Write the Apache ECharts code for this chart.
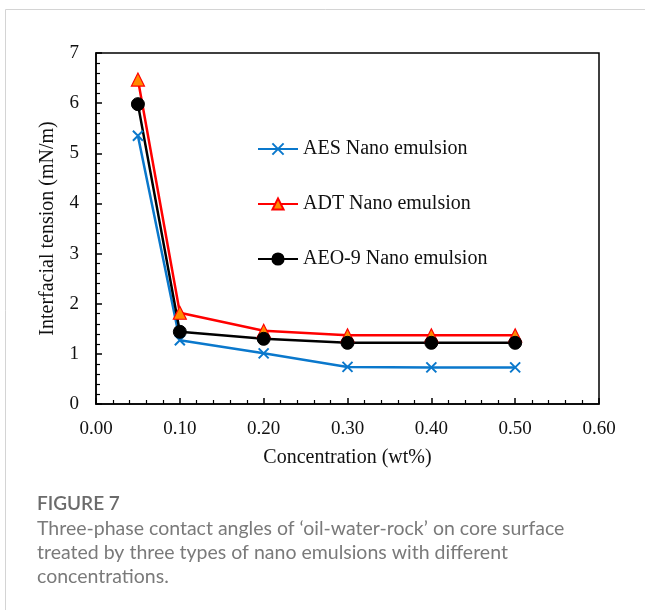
<!DOCTYPE html>
<html>
<head>
<meta charset="utf-8">
<script src="https://cdn.jsdelivr.net/npm/echarts@6/dist/echarts.min.js"></script>
<style>html,body{margin:0;padding:0;background:#fff;}#c{width:645px;height:610px;}</style>
</head>
<body>
<div id="c"></div>
<script>
const concentrations = [0.05, 0.10, 0.20, 0.30, 0.40, 0.50];
const aesValues = [5.35, 1.27, 1.01, 0.74, 0.73, 0.73];
const adtValues = [6.47, 1.82, 1.46, 1.37, 1.37, 1.37];
const aeoValues = [5.98, 1.44, 1.30, 1.22, 1.22, 1.22];
const seriesNames = ['AES Nano emulsion', 'ADT Nano emulsion', 'AEO-9 Nano emulsion'];
const xTitle = 'Concentration (wt%)';
const yTitle = 'Interfacial tension (mN/m)';
const captionTitle = 'FIGURE 7';
const captionLines = [
  'Three-phase contact angles of \u2018oil-water-rock\u2019 on core surface',
  'treated by three types of nano emulsions with different',
  'concentrations.'
];

const pairs = v => concentrations.map((x, i) => [x, v[i]]);
const serif = '"Liberation Serif", "Times New Roman", serif';
const crossPath = 'path://M0,0L10,10M10,0L0,10';

const chart = echarts.init(document.getElementById('c'), null, {renderer: 'canvas'});
chart.setOption({
  animation: false,
  backgroundColor: '#fff',
  grid: {left: 96, top: 53, right: 46, bottom: 206, show: true, borderColor: '#000', borderWidth: 1.5, backgroundColor: 'transparent'},
  xAxis: {
    type: 'value', min: 0, max: 0.6, interval: 0.1,
    name: xTitle, nameLocation: 'middle', nameGap: 44,
    nameTextStyle: {fontFamily: serif, fontSize: 20, color: '#111'},
    axisLine: {lineStyle: {color: '#000', width: 1.5}},
    axisTick: {inside: true, length: 6, lineStyle: {color: '#000', width: 1.5}},
    minorTick: {show: true, splitNumber: 5, length: 4, lineStyle: {color: '#000', width: 1.2}},
    axisLabel: {fontFamily: serif, fontSize: 19, color: '#111', margin: 16, formatter: v => v.toFixed(2)},
    splitLine: {show: false}
  },
  yAxis: {
    type: 'value', min: 0, max: 7, interval: 1,
    name: yTitle, nameLocation: 'middle', nameGap: 38, nameRotate: 90,
    nameTextStyle: {fontFamily: serif, fontSize: 20, color: '#111'},
    axisLine: {show: true, lineStyle: {color: '#000', width: 1.5}},
    axisTick: {show: true, inside: true, length: 6, lineStyle: {color: '#000', width: 1.5}},
    minorTick: {show: true, splitNumber: 5, length: 4, lineStyle: {color: '#000', width: 1.2}},
    axisLabel: {fontFamily: serif, fontSize: 19, color: '#111', margin: 17},
    splitLine: {show: false}
  },
  legend: {
    orient: 'vertical', left: 257, top: 139, padding: 0, itemGap: 35, itemWidth: 40, itemHeight: 14,
    textStyle: {fontFamily: serif, fontSize: 20, color: '#111'},
    data: seriesNames
  },
  series: [
    {name: seriesNames[0], type: 'line', data: pairs(aesValues), symbol: crossPath, symbolSize: 10,
     lineStyle: {color: '#0a78cc', width: 2.5}, itemStyle: {color: 'transparent', borderColor: '#0a78cc', borderWidth: 2}},
    {name: seriesNames[1], type: 'line', data: pairs(adtValues), symbol: 'triangle', symbolSize: 13,
     lineStyle: {color: '#ff0000', width: 2.5}, itemStyle: {color: '#ff8a00', borderColor: '#ff0000', borderWidth: 1.2}},
    {name: seriesNames[2], type: 'line', data: pairs(aeoValues), symbol: 'circle', symbolSize: 13,
     lineStyle: {color: '#000', width: 2.5}, itemStyle: {color: '#000', borderColor: '#000', borderWidth: 1}}
  ],
  graphic: [
    {type: 'rect', silent: true, z: -10, shape: {x: 5.5, y: 9.5, width: 700, height: 700}, style: {fill: 'none', stroke: '#d4d4d4', lineWidth: 1}},
    {type: 'text', left: 37, top: 494, style: {text: captionTitle, font: '600 19px Lato', fill: '#6b6b6b'}},
    {type: 'text', left: 37, top: 519, style: {text: captionLines[0], font: '19.5px Lato', fill: '#7a7a7a'}},
    {type: 'text', left: 37, top: 543, style: {text: captionLines[1], font: '19.5px Lato', fill: '#7a7a7a'}},
    {type: 'text', left: 37, top: 567, style: {text: captionLines[2], font: '19.5px Lato', fill: '#7a7a7a'}}
  ]
});
</script>
</body>
</html>
